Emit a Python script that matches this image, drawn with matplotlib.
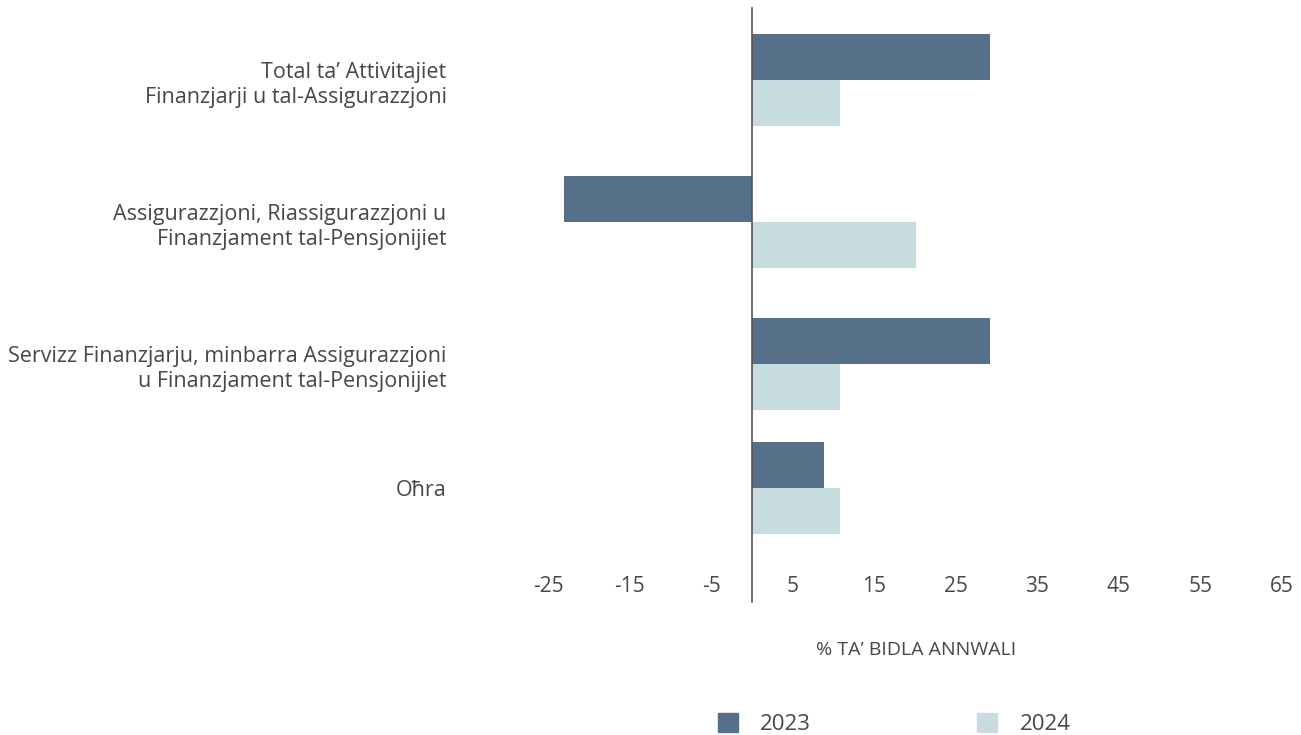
import matplotlib.pyplot as plt
from matplotlib.patches import Patch

# dati
categorie = [
    "Total ta\u2019 Attivitajiet\nFinanzjarji u tal-Assigurazzjoni",
    "Assigurazzjoni, Riassigurazzjoni u\nFinanzjament tal-Pensjonijiet",
    "Servizz Finanzjarju, minbarra Assigurazzjoni\nu Finanzjament tal-Pensjonijiet",
    "O\u0127ra",
]
valori_2023 = [29.2, -23.0, 29.2, 8.8]
valori_2024 = [10.8, 20.1, 10.8, 10.8]
serie = ["2023", "2024"]
ticks_x = [-25, -15, -5, 5, 15, 25, 35, 45, 55, 65]

col_2023 = "#56708A"
col_2024 = "#C7DCDF"
col_testo = "#474747"

plt.rcParams['font.family'] = ['Open Sans', 'DejaVu Sans']

fig = plt.figure(figsize=(13.01, 7.35), dpi=100)
ax = fig.add_axes([548 / 1301, (735 - 570) / 735, 734 / 1301, 562 / 735])

pos = [0, 1, 2, 2.873]  # posizione dei gruppi
h = 0.324
ax.barh([p - h / 2 for p in pos], valori_2023, height=h, color=col_2023)
ax.barh([p + h / 2 for p in pos], valori_2024, height=h, color=col_2024)

ax.set_xlim(-25, 65)
ax.set_ylim(3.45, -0.507)
ax.set_xticks(ticks_x)
ax.set_xticklabels([str(t) for t in ticks_x], fontsize=15)
ax.set_yticks(pos)
ax.set_yticklabels(categorie, linespacing=1.25, fontsize=15.5)

for s in ax.spines.values():
    s.set_visible(False)
ax.axvline(0, ymin=-0.057, ymax=1, color="#555555", lw=1.2, clip_on=False)

ax.tick_params(axis='both', length=0, colors=col_testo)
ax.tick_params(axis='x', pad=4)
ax.tick_params(axis='y', pad=73)

fig.text(916 / 1301, 1 - 650 / 735, "% TA\u2019 BIDLA ANNWALI", ha='center', va='center',
         fontsize=14, color=col_testo)

handles = [Patch(color=col_2023), Patch(color=col_2024)]
fig.legend(handles, serie, loc='center', bbox_to_anchor=(894 / 1301, 1 - 724 / 735), ncol=2,
           frameon=False, fontsize=16, handlelength=0.9, handleheight=0.9,
           columnspacing=7.5, handletextpad=1.0, labelcolor=col_testo)

fig.savefig("out.png", dpi=100)
